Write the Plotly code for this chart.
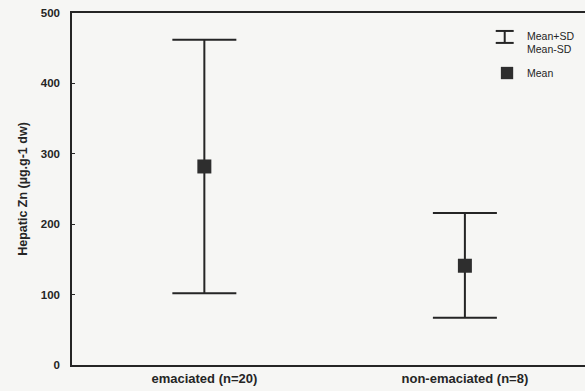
import plotly.graph_objects as go

groups = ["emaciated (n=20)", "non-emaciated (n=8)"]
mean_zn = [282, 141]
mean_plus_sd = [462, 216]
mean_minus_sd = [102, 67]

err_up = [u - m for u, m in zip(mean_plus_sd, mean_zn)]
err_down = [m - d for m, d in zip(mean_zn, mean_minus_sd)]

ink = "#252525"
bg = "#f6f6f4"

fig = go.Figure()
fig.add_trace(go.Scatter(
    x=groups, y=mean_zn, mode="markers",
    marker=dict(symbol="square", size=14, color="#2e2e2e", line=dict(width=0)),
    error_y=dict(type="data", symmetric=False, array=err_up, arrayminus=err_down,
                 color=ink, thickness=2, width=32),
    showlegend=False,
))

# legend drawn by hand, paper coords
lx0, lx1 = 0.826, 0.861
ly_top, ly_bot = 0.949, 0.915
fig.add_shape(type="line", xref="paper", yref="paper", x0=lx0, x1=lx1, y0=ly_top, y1=ly_top,
              line=dict(color=ink, width=2))
fig.add_shape(type="line", xref="paper", yref="paper", x0=lx0, x1=lx1, y0=ly_bot, y1=ly_bot,
              line=dict(color=ink, width=2))
fig.add_shape(type="line", xref="paper", yref="paper", x0=(lx0 + lx1) / 2, x1=(lx0 + lx1) / 2,
              y0=ly_bot, y1=ly_top, line=dict(color=ink, width=2))
fig.add_shape(type="rect", xref="paper", yref="paper", x0=0.836, x1=0.860, y0=0.812, y1=0.847,
              fillcolor="#2e2e2e", line=dict(width=0))
for txt, yy in [("Mean+SD", 0.935), ("Mean-SD", 0.898), ("Mean", 0.83)]:
    fig.add_annotation(text=txt, xref="paper", yref="paper", x=0.883, y=yy,
                       xanchor="left", yanchor="middle", showarrow=False,
                       font=dict(family="Arial, Liberation Sans", size=10.5, color=ink))

fig.update_layout(
    width=585, height=391,
    margin=dict(l=72, r=0, t=13, b=26),
    paper_bgcolor=bg, plot_bgcolor=bg,
    font=dict(family="Arial, Liberation Sans", color=ink),
)
fig.update_xaxes(
    range=[-0.508, 1.461], showline=True, mirror=True, linecolor=ink, linewidth=1.5,
    ticks="", showgrid=False, zeroline=False,
    tickfont=dict(size=13), ticklabelstandoff=1,
    tickvals=groups, ticktext=["<b>%s</b>" % g for g in groups],
)
fig.update_yaxes(
    range=[0, 500], dtick=100, showline=True, mirror=False, linecolor=ink, linewidth=1.5,
    ticks="inside", ticklen=3, tickcolor=ink, showgrid=False, zeroline=False,
    tickfont=dict(size=11.5), ticklabelstandoff=8,
    tickvals=[0, 100, 200, 300, 400, 500],
    ticktext=["<b>%d</b>" % v for v in [0, 100, 200, 300, 400, 500]],
    title=dict(text="<b>Hepatic Zn (µg.g-1 dw)</b>", font=dict(size=12.5), standoff=10),
)

# page body has a default 8px margin; drop it so the figure fills the window
fig.write_html("out.html", config={"displayModeBar": False},
               post_script="document.body.style.margin='0';document.body.style.overflow='hidden';")
